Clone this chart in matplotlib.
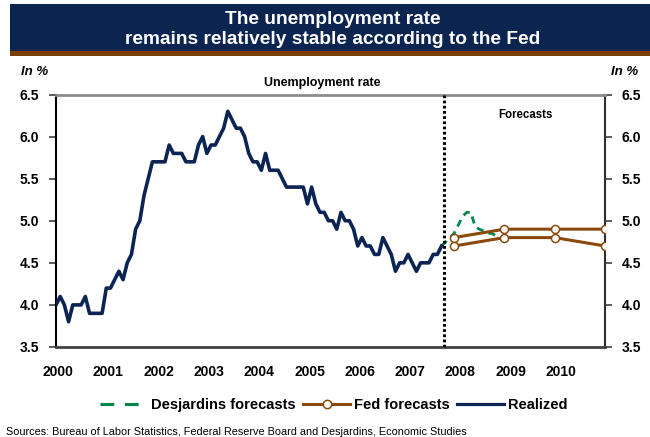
import numpy as np
import matplotlib
matplotlib.use("Agg")
import matplotlib.pyplot as plt
from matplotlib.patches import Rectangle
from matplotlib.lines import Line2D

plt.rcParams['font.family'] = ['Liberation Sans', 'DejaVu Sans']

# Monthly unemployment rate, January 2000 to September 2007 (in %)
realized = [
    4.0, 4.1, 4.0, 3.8, 4.0, 4.0, 4.0, 4.1, 3.9, 3.9, 3.9, 3.9,
    4.2, 4.2, 4.3, 4.4, 4.3, 4.5, 4.6, 4.9, 5.0, 5.3, 5.5, 5.7,
    5.7, 5.7, 5.7, 5.9, 5.8, 5.8, 5.8, 5.7, 5.7, 5.7, 5.9, 6.0,
    5.8, 5.9, 5.9, 6.0, 6.1, 6.3, 6.2, 6.1, 6.1, 6.0, 5.8, 5.7,
    5.7, 5.6, 5.8, 5.6, 5.6, 5.6, 5.5, 5.4, 5.4, 5.4, 5.4, 5.4,
    5.2, 5.4, 5.2, 5.1, 5.1, 5.0, 5.0, 4.9, 5.1, 5.0, 5.0, 4.9,
    4.7, 4.8, 4.7, 4.7, 4.6, 4.6, 4.8, 4.7, 4.6, 4.4, 4.5, 4.5,
    4.6, 4.5, 4.4, 4.5, 4.5, 4.5, 4.6, 4.6, 4.7,
]
first_year = 2000

# Desjardins monthly forecasts, September 2007 to December 2008
desjardins_start = (2007, 9)
desjardins = [4.7, 4.75, 4.8, 4.85, 4.95, 5.05, 5.1, 5.1,
              4.93, 4.9, 4.88, 4.85, 4.85, 4.82, 4.8, 4.8]

# Fed central tendency, fourth quarter of each year
fed_years = [2007, 2008, 2009, 2010]
fed_high = [4.8, 4.9, 4.9, 4.9]
fed_low = [4.7, 4.8, 4.8, 4.7]

year_labels = [str(y) for y in range(2000, 2011)]
y_ticks = [3.5, 4.0, 4.5, 5.0, 5.5, 6.0, 6.5]


def month_index(year, month):
    return (year - first_year) * 12 + (month - 1)


NAVY = '#0B2454'
BROWN = '#8B4A0B'
GREEN = '#00854A'
BAR = '#0C2550'
STRIP = '#7A3E06'

W, H = 650, 437
fig = plt.figure(figsize=(W / 100, H / 100), dpi=100)

# Title banner
fig.add_artist(Rectangle((10 / W, 1 - 51 / H), 640 / W, 47 / H,
                         transform=fig.transFigure, color=BAR, lw=0))
fig.add_artist(Rectangle((10 / W, 1 - 56 / H), 640 / W, 5 / H,
                         transform=fig.transFigure, color=STRIP, lw=0))
fig.text(333 / W, 1 - 20 / H, "The unemployment rate", color='white',
         fontsize=13.8, fontweight='bold', ha='center', va='center')
fig.text(333 / W, 1 - 40 / H, "remains relatively stable according to the Fed",
         color='white', fontsize=13.8, fontweight='bold', ha='center', va='center')

ax = fig.add_axes([56 / W, 1 - 347 / H, (605 - 56) / W, (347 - 94.5) / H])

x_real = np.arange(len(realized))
ax.plot(x_real, realized, color=NAVY, lw=2.6, solid_joinstyle='round', zorder=4)

x_desj = month_index(*desjardins_start) + np.arange(len(desjardins))
ax.plot(x_desj, desjardins, color=GREEN, lw=2.0, dashes=(2.6, 2.0), zorder=3)

x_fed = [month_index(y, 12) for y in fed_years]
for series in (fed_high, fed_low):
    ax.plot(x_fed, series, color=BROWN, lw=2.2, marker='o', markersize=5.8,
            markerfacecolor='white', markeredgecolor=BROWN, markeredgewidth=1.1,
            zorder=5)

# Boundary between history and forecasts
ax.axvline(92.6, color='black', lw=2.2, linestyle=(0, (0.9, 0.8)),
           dash_capstyle='butt', zorder=6)

ax.set_xlim(0, month_index(2010, 12))
ax.set_ylim(3.5, 6.5)
ax.set_yticks(y_ticks)
ax.set_yticklabels([f"{v:.1f}" for v in y_ticks])
ax.set_xticks([12 * i + 0.5 for i in range(len(year_labels))])
ax.set_xticklabels(year_labels)

ax.tick_params(axis='x', length=0, pad=13, labelsize=10)
ax.tick_params(axis='y', which='both', direction='out', length=5, width=1.2,
               color='#404040', labelsize=10, pad=7, right=True,
               labelright=True)
for t in ax.yaxis.get_major_ticks():
    t.label1.set_fontweight('bold')
    t.label2.set_fontweight('bold')
for lab in ax.get_xticklabels():
    lab.set_fontweight('bold')

ax.spines['left'].set_color('black')
ax.spines['left'].set_linewidth(1.5)
ax.spines['right'].set_color('#303030')
ax.spines['right'].set_linewidth(1.5)
ax.spines['top'].set_color('#8C8C8C')
ax.spines['top'].set_linewidth(2.0)
ax.spines['bottom'].set_color('#404040')
ax.spines['bottom'].set_linewidth(2.0)

ax.text(0.485, 1.045, "Unemployment rate", transform=ax.transAxes,
        ha='center', va='center', fontsize=9, fontweight='bold')
ax.text(0.855, 0.92, "Forecasts", transform=ax.transAxes,
        ha='center', va='center', fontsize=8.3, fontweight='bold')

fig.text(35 / W, 1 - 72 / H, "In %", fontsize=9.5, fontweight='bold',
         fontstyle='italic', ha='center', va='center')
fig.text(625 / W, 1 - 72 / H, "In %", fontsize=9.5, fontweight='bold',
         fontstyle='italic', ha='center', va='center')

handles = [
    Line2D([], [], color=GREEN, lw=2.2, dashes=(4.5, 3.5)),
    Line2D([], [], color=BROWN, lw=2.2, marker='o', markersize=6,
           markerfacecolor='white', markeredgecolor=BROWN, markeredgewidth=1.1),
    Line2D([], [], color=NAVY, lw=2.3),
]
fig.legend(handles, ["Desjardins forecasts", "Fed forecasts", "Realized"],
           loc='center', bbox_to_anchor=(334 / W, 1 - 405 / H), ncol=3,
           frameon=False, handlelength=3.2, handletextpad=0.3,
           columnspacing=0.5, prop={'weight': 'bold', 'size': 10.5})

fig.text(6 / W, 1 - 432 / H,
         "Sources: Bureau of Labor Statistics, Federal Reserve Board and "
         "Desjardins, Economic Studies", fontsize=7.8, ha='left', va='center')

fig.savefig("out.png", dpi=100, facecolor='white')
